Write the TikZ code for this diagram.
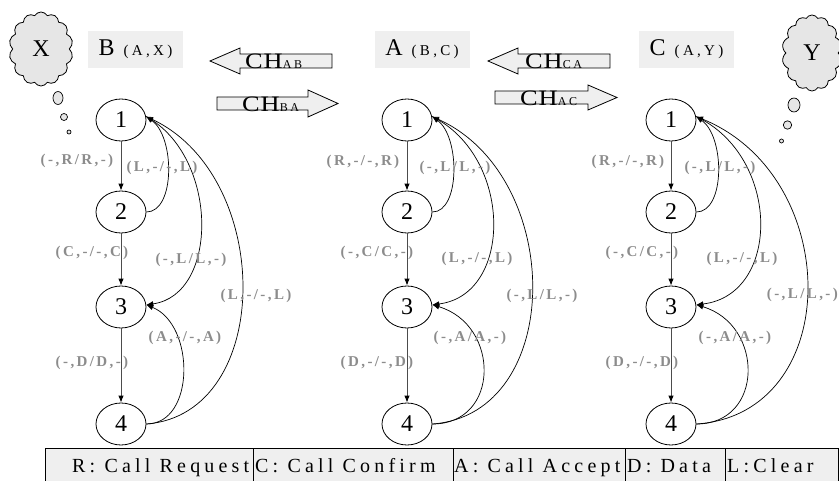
\documentclass[tikz,border=0pt]{standalone}
\usepackage{fontspec}
\setmainfont{Liberation Serif}
\newfontfamily\labf[LetterSpace=16]{Liberation Serif Bold}
\newfontfamily\hdf[LetterSpace=22]{Liberation Serif}
\newfontfamily\chf[FakeStretch=1.2,LetterSpace=4]{Liberation Serif}
\newfontfamily\subf[LetterSpace=22]{Liberation Serif}
\newfontfamily\legf[LetterSpace=21]{Liberation Serif}
\usetikzlibrary{shapes.geometric,shapes.symbols,arrows.meta}
\definecolor{lab}{HTML}{8C8C8C}
\definecolor{boxfill}{HTML}{EFEFEF}
\definecolor{cloudfill}{HTML}{E6E6E6}
\tikzset{
  state/.style={ellipse, draw, line width=0.8pt, minimum width=50pt, minimum height=42pt, inner sep=0pt, font=\fontsize{24}{24}\selectfont},
  tr/.style={-{Latex[length=7pt,width=5.5pt]}, line width=0.7pt},
  vt/.style={-{Latex[length=7pt,width=5.5pt,color=black]}, line width=0.9pt, draw=black!70},
  lbl/.style={text=lab, font=\labf\fontsize{15}{15}\selectfont, inner sep=0pt},
  hdbox/.style={fill=boxfill, minimum width=95pt, minimum height=37pt, inner sep=0pt},
  charrow/.style={draw, line width=0.8pt, fill=boxfill},
  chtext/.style={anchor=base west, inner sep=0pt},
  legtext/.style={anchor=base west, inner sep=0pt, font=\legf\fontsize{20}{20}\selectfont},
  cloudnode/.style={cloud, cloud puffs=14, cloud puff arc=120, draw, line width=0.8pt, fill=cloudfill, inner sep=0pt, font=\fontsize{24}{24}\selectfont},
  bubble/.style={draw, line width=0.7pt, fill=cloudfill}
}
\begin{document}
\begin{tikzpicture}[x=1pt,y=-1pt]
\useasboundingbox (0,0) rectangle (839,481);
\clip (0,0) rectangle (839,481);

% clouds
\node[cloudnode, minimum width=64pt, minimum height=74pt, aspect=0.86] (cloudx) at (41,49) {X};
\draw[bubble] (58,98) ellipse [x radius=5, y radius=6.5];
\draw[bubble] (64,117) circle [radius=3.5];
\draw[bubble] (69,132) circle [radius=2];
\node[cloudnode, minimum width=60pt, minimum height=76pt, aspect=0.78] (cloudy) at (812,53) {Y};
\draw[bubble] (794,105) ellipse [x radius=6, y radius=7];
\draw[bubble] (787.5,125) circle [radius=4.2];
\draw[bubble] (781.5,141) circle [radius=2];

% header boxes
\node[hdbox] (hb) at (135.5,49.5) {\fontsize{24}{24}\selectfont B\hspace{9pt}{\hdf\fontsize{15}{15}\selectfont (A,X)}};
\node[hdbox] (ha) at (422,49.5) {\fontsize{24}{24}\selectfont A\hspace{9pt}{\hdf\fontsize{15}{15}\selectfont (B,C)}};
\node[hdbox] (hc) at (686.5,49.5) {\fontsize{24}{24}\selectfont C\hspace{9pt}{\hdf\fontsize{15}{15}\selectfont (A,Y)}};

% channel arrows
\draw[charrow] (210,61) -- (240,48) -- (240,54) -- (332,54) -- (332,68) -- (240,68) -- (240,74) -- cycle;
\node[chtext] (tab) at (245,69) {{\chf\fontsize{22}{22}\selectfont CH}{\subf\fontsize{12}{12}\selectfont AB}};
\draw[charrow] (338,103.5) -- (308,90) -- (308,97) -- (217,97) -- (217,110) -- (308,110) -- (308,117) -- cycle;
\node[chtext] (tba) at (242,112) {{\chf\fontsize{22}{22}\selectfont CH}{\subf\fontsize{12}{12}\selectfont BA}};
\draw[charrow] (488,61) -- (518,48) -- (518,54) -- (610,54) -- (610,68) -- (518,68) -- (518,74) -- cycle;
\node[chtext] (tca) at (525,69) {{\chf\fontsize{22}{22}\selectfont CH}{\subf\fontsize{12}{12}\selectfont CA}};
\draw[charrow] (617,97.5) -- (588,85) -- (588,91) -- (495,91) -- (495,104) -- (588,104) -- (588,110) -- cycle;
\node[chtext] (tac) at (520,106) {{\chf\fontsize{22}{22}\selectfont CH}{\subf\fontsize{12}{12}\selectfont AC}};

% state machines
\foreach \n/\cx/\da/\db/\dc/\dd in {b/121/29/73/128/49, a/407/28/81/133/68, c/671/29/85/148/68} {
  \node[state] (\n1) at (\cx,120) {1};
  \node[state] (\n2) at (\cx,212) {2};
  \node[state] (\n3) at (\cx,307) {3};
  \node[state] (\n4) at (\cx,424) {4};
  \draw[vt] (\n1.south) -- (\n2.north);
  \draw[vt] (\n2.south) -- (\n3.north);
  \draw[vt] (\n3.south) -- (\n4.north);
  \draw[tr] (\n2.east) .. controls +(\da,0) and +(\da,20) .. (\n1.8);
  \draw[tr] (\n1.8) .. controls +(\db,40) and +(\db,-10) .. (\n3.5);
  \draw[tr] (\n4.east) .. controls +(\dc,-10) and +(\dc,60) .. (\n1.8);
  \draw[tr] (\n4.east) .. controls +(\dd,0) and +(\dd,20) .. (\n3.5);
}

% labels column B
\node[lbl] (lb1) at (77,161) {(-,R/R,-)};
\node[lbl] (lb2) at (162,168) {(L,-/-,L)};
\node[lbl] (lb3) at (92,253) {(C,-/-,C)};
\node[lbl] (lb4) at (191,260) {(-,L/L,-)};
\node[lbl] (lb5) at (256,296) {(L,-/-,L)};
\node[lbl] (lb6) at (185,338) {(A,-/-,A)};
\node[lbl] (lb7) at (92,363) {(-,D/D,-)};
% labels column A
\node[lbl] (la1) at (363,162) {(R,-/-,R)};
\node[lbl] (la2) at (455,168) {(-,L/L,-)};
\node[lbl] (la3) at (377,253) {(-,C/C,-)};
\node[lbl] (la4) at (477,259) {(L,-/-,L)};
\node[lbl] (la5) at (542,296) {(-,L/L,-)};
\node[lbl] (la6) at (470,338) {(-,A/A,-)};
\node[lbl] (la7) at (377,363) {(D,-/-,D)};
% labels column C
\node[lbl] (lc1) at (628,162) {(R,-/-,R)};
\node[lbl] (lc2) at (720,168) {(-,L/L,-)};
\node[lbl] (lc3) at (642,253) {(-,C/C,-)};
\node[lbl] (lc4) at (742,259) {(L,-/-,L)};
\node[lbl, anchor=east] (lc5) at (838,295) {(-,L/L,-)};
\node[lbl] (lc6) at (735,338) {(-,A/A,-)};
\node[lbl] (lc7) at (642,363) {(D,-/-,D)};

% legend
\draw[line width=0.8pt, fill=boxfill] (45,448) rectangle (838,484);
\draw[line width=0.8pt] (253,448) -- (253,484);
\draw[line width=0.8pt] (453,448) -- (453,484);
\draw[line width=0.8pt] (625,448) -- (625,484);
\draw[line width=0.8pt] (725,448) -- (725,484);
\node[legtext] (lr) at (72,472) {R: Call Request};
\node[legtext] (lcc) at (255,472) {C: Call Confirm};
\node[legtext] (lca) at (454,472) {A: Call Accept};
\node[legtext] (ld) at (627,472) {D: Data};
\node[legtext] (ll) at (727,472) {L:Clear};
\end{tikzpicture}
\end{document}
